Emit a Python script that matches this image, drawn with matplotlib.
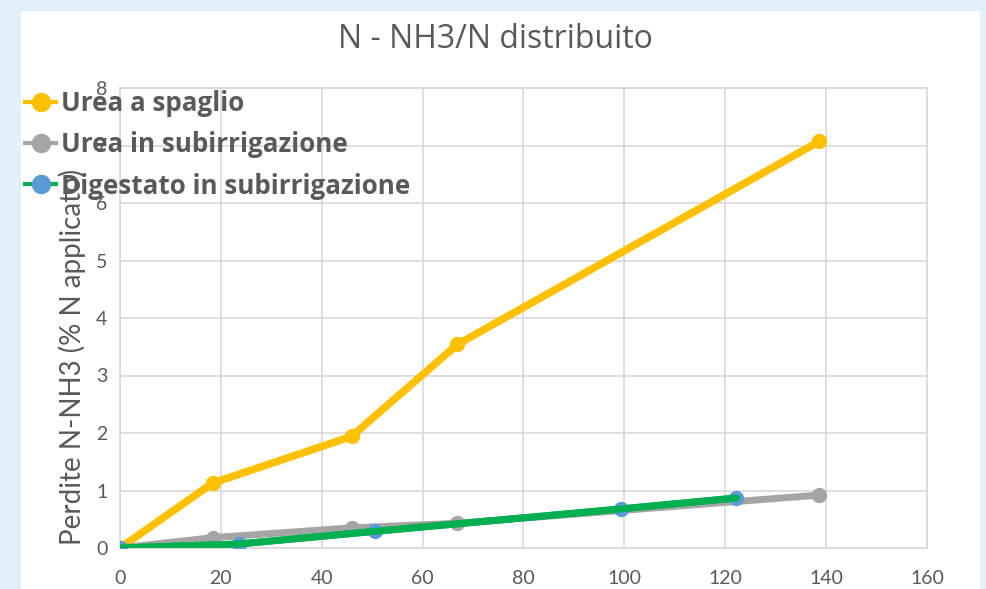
import numpy as np
import matplotlib.pyplot as plt
from matplotlib.patches import Rectangle
from matplotlib.lines import Line2D

plt.rcParams['font.family'] = ['Lato', 'DejaVu Sans']

# Data series
urea_spaglio_x = [0, 18.4, 45.9, 66.9, 138.6]
urea_spaglio_y = [0, 1.13, 1.94, 3.54, 7.07]

urea_sub_x = [0, 18.4, 45.9, 66.9, 138.6]
urea_sub_y = [0, 0.18, 0.35, 0.43, 0.92]

digestato_x = [0, 23.6, 50.6, 99.4, 122.2]
digestato_y = [0, 0.07, 0.29, 0.68, 0.87]

series_labels = ["Urea a spaglio", "Urea in subirrigazione", "Digestato in subirrigazione"]
x_ticks = [0, 20, 40, 60, 80, 100, 120, 140, 160]
y_ticks = [0, 1, 2, 3, 4, 5, 6, 7, 8]

text_col = "#595959"
grid_col = "#D9D9D9"
orange = "#FFC000"
gray = "#A5A5A5"
blue = "#5B9BD5"
green = "#00B050"

W, H = 987, 589
fig = plt.figure(figsize=(W / 100, H / 100), dpi=100)
fig.patch.set_facecolor("#E2F1F9")

# white slide panel
fig.add_artist(Rectangle((21 / W, 0), (980 - 21) / W, 1 - 11 / H,
                         transform=fig.transFigure, facecolor="white",
                         edgecolor="none", zorder=0))

ax = fig.add_axes([120 / W, 1 - 548 / H, (927 - 120) / W, (548 - 88) / H])
ax.set_facecolor("white")

ax.plot(urea_spaglio_x, urea_spaglio_y, color=orange, lw=5.5, marker="o",
        ms=10, mfc=orange, mec=orange, solid_capstyle="round", zorder=3)
ax.plot(urea_sub_x, urea_sub_y, color=gray, lw=5, marker="o",
        ms=10, mfc=gray, mec=gray, solid_capstyle="round", zorder=3)
ax.plot(digestato_x, digestato_y, color=green, lw=5, marker="o",
        ms=10, mfc=blue, mec=blue, solid_capstyle="round", zorder=4)
# green line drawn over the blue markers
ax.plot(digestato_x, digestato_y, color=green, lw=5, solid_capstyle="round", zorder=5)

ax.set_xlim(0, 160)
ax.set_ylim(0, 8)
ax.set_xticks(x_ticks)
ax.set_yticks(y_ticks)
ax.grid(True, color=grid_col, lw=1.2)
ax.set_axisbelow(True)
for s in ax.spines.values():
    s.set_color(grid_col)
    s.set_linewidth(1.2)
ax.tick_params(length=0, labelsize=14, labelcolor=text_col)
ax.tick_params(axis="x", pad=16)
ax.tick_params(axis="y", pad=9)

# axis title, anchored at its lower end
fig.text(72 / W, 1 - 545 / H, "Perdite N-NH3 (% N applicato)", rotation=90,
         ha="center", va="bottom", fontsize=20, color=text_col)

fig.text(495 / W, 1 - 39 / H, "N - NH3/N distribuito", ha="center", va="center",
         fontsize=23, color=text_col, family=["Open Sans", "DejaVu Sans"])

handles = [
    Line2D([0], [0], color=orange, lw=3, marker="o", ms=13, mfc=orange, mec=orange),
    Line2D([0], [0], color=gray, lw=3, marker="o", ms=13, mfc=gray, mec=gray),
    Line2D([0], [0], color=green, lw=3, marker="o", ms=13, mfc=blue, mec=blue),
]
leg = fig.legend(handles, series_labels, loc="upper left",
                 bbox_to_anchor=(25 / W, 1 - 90 / H), frameon=False,
                 handlelength=1.2, handletextpad=0.2, labelspacing=0.55,
                 prop={"size": 18.7, "weight": "bold", "family": ["Open Sans", "DejaVu Sans"]},
                 borderaxespad=0, borderpad=0)
for t in leg.get_texts():
    t.set_color(text_col)

fig.savefig("out.png", dpi=100, facecolor=fig.get_facecolor())
